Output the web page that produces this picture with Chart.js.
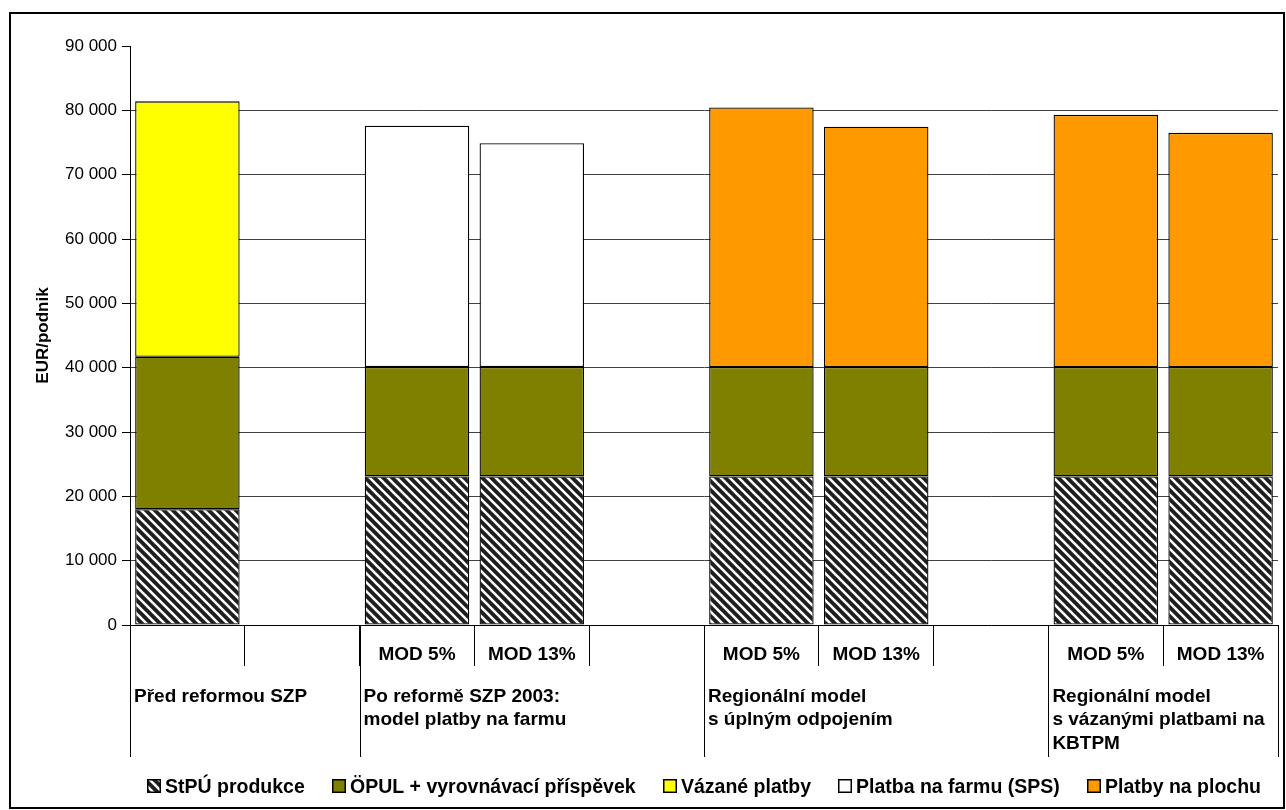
<!DOCTYPE html>
<html>
<head>
<meta charset="utf-8">
<script src="https://cdn.jsdelivr.net/npm/chart.js@4.4.1/dist/chart.umd.min.js"></script>
<style>
  html, body { margin: 0; padding: 0; background: #fff; }
  #frame { position: absolute; left: 9px; top: 12px; width: 1272px; height: 793px; border: 2px solid #000; }
  #wrap { position: absolute; left: 0; top: 0; width: 1286px; height: 810px; }
</style>
</head>
<body>
<div id="frame"></div>
<div id="wrap"><canvas id="c" width="1286" height="810"></canvas></div>
<script>
// ---- data ----
const categories = ['', '', 'MOD 5%', 'MOD 13%', '', 'MOD 5%', 'MOD 13%', '', 'MOD 5%', 'MOD 13%'];
const stpuProdukce    = [18000, null, 23100, 23100, null, 23100, 23100, null, 23100, 23100];
const opulVyrovnavaci = [23700, null, 17000, 17000, null, 17000, 17000, null, 17000, 17000];
const vazanePlatby    = [39700, null, null, null, null, null, null, null, null, null];
const platbaNaFarmu   = [null, null, 37500, 34800, null, null, null, null, null, null];
const platbyNaPlochu  = [null, null, null, null, null, 40350, 37350, null, 39200, 36400];
const seriesNames = ['StPÚ produkce', 'ÖPUL + vyrovnávací příspěvek', 'Vázané platby', 'Platba na farmu (SPS)', 'Platby na plochu'];
const groupLabels = [['Před reformou SZP'], ['Po reformě SZP 2003:', 'model platby na farmu'], ['Regionální model', 's úplným odpojením'], ['Regionální model', 's vázanými platbami na', 'KBTPM']];
const groupStarts = [0, 2, 5, 8];
const groupEnds   = [1, 4, 7, 9];
const yTicksMax = 90000;
const yStep = 10000;

// ---- hatch pattern ----
function makeHatch() {
  const s = 9;
  const c = document.createElement('canvas');
  c.width = s; c.height = s;
  const g = c.getContext('2d');
  g.fillStyle = '#1e1e1e';
  g.fillRect(0, 0, s, s);
  g.strokeStyle = '#ffffff';
  g.lineWidth = 2.6;
  g.beginPath();
  g.moveTo(-s, -s); g.lineTo(2 * s, 2 * s);
  g.moveTo(-s, 0); g.lineTo(s, 2 * s);
  g.moveTo(0, -s); g.lineTo(2 * s, s);
  g.stroke();
  return g.createPattern(c, 'repeat');
}
const hatch = makeHatch();

const FONT = '"Liberation Sans", Arial, sans-serif';
Chart.defaults.font.family = FONT;
Chart.defaults.color = '#000';

const fmt = v => String(v).replace(/\B(?=(\d{3})+(?!\d))/g, ' ');

const groupPlugin = {
  id: 'groups',
  afterDraw(chart) {
    const x = chart.scales.x;
    const ctx = chart.ctx;
    const half = x.width / categories.length / 2;
    const bottom = 757;
    ctx.save();
    ctx.strokeStyle = '#000';
    ctx.lineWidth = 1;
    const edges = groupStarts.map(s => x.getPixelForValue(s) - half);
    edges.push(x.getPixelForValue(groupEnds[groupEnds.length - 1]) + half);
    edges.forEach(px => {
      const p = Math.round(px) + 0.5;
      ctx.beginPath();
      ctx.moveTo(p, x.top);
      ctx.lineTo(p, bottom);
      ctx.stroke();
    });
    ctx.fillStyle = '#000';
    ctx.font = 'bold 19px ' + FONT;
    ctx.textAlign = 'left';
    ctx.textBaseline = 'alphabetic';
    groupLabels.forEach((lines, i) => {
      const left = x.getPixelForValue(groupStarts[i]) - half + 4;
      lines.forEach((t, j) => ctx.fillText(t, left, 702 + j * 23.3));
    });

    // legend (dataset labels and fills), centred under the plot area
    const ca = chart.chartArea;
    const box = 14, boxGap = 4, itemGap = 27;
    ctx.font = 'bold 19.5px ' + FONT;
    const ds = chart.data.datasets;
    const widths = ds.map(d => box + boxGap + ctx.measureText(d.label).width);
    const total = widths.reduce((a, b) => a + b, 0) + itemGap * (ds.length - 1);
    let lx = (ca.left + ca.right) / 2 - total / 2;
    const cy = 786;
    ds.forEach((d, i) => {
      const bx = Math.round(lx), by = Math.round(cy - box / 2);
      ctx.fillStyle = d.backgroundColor;
      ctx.fillRect(bx, by, box, box);
      ctx.lineWidth = 1.5;
      ctx.strokeStyle = '#000';
      ctx.strokeRect(bx + 0.75, by + 0.75, box - 1.5, box - 1.5);
      ctx.fillStyle = '#000';
      ctx.textBaseline = 'alphabetic';
      ctx.fillText(d.label, bx + box + boxGap, cy + 7);
      lx += widths[i] + itemGap;
    });
    ctx.restore();
  }
};

const common = { borderColor: '#000', borderWidth: 1.3, borderSkipped: false, categoryPercentage: 1, barPercentage: 0.91 };

new Chart(document.getElementById('c'), {
  type: 'bar',
  data: {
    labels: categories,
    datasets: [
      Object.assign({ label: seriesNames[0], data: stpuProdukce, backgroundColor: hatch }, common),
      Object.assign({ label: seriesNames[1], data: opulVyrovnavaci, backgroundColor: '#808000' }, common),
      Object.assign({ label: seriesNames[2], data: vazanePlatby, backgroundColor: '#ffff00' }, common),
      Object.assign({ label: seriesNames[3], data: platbaNaFarmu, backgroundColor: '#ffffff' }, common),
      Object.assign({ label: seriesNames[4], data: platbyNaPlochu, backgroundColor: '#ff9900' }, common)
    ]
  },
  options: {
    responsive: false,
    animation: false,
    layout: { padding: { left: 20, top: 46, right: 8, bottom: 40.5 } },
    plugins: {
      tooltip: { enabled: false },
      legend: { display: false }
    },
    scales: {
      x: {
        stacked: true,
        offset: true,
        grid: { offset: true, drawOnChartArea: false, tickLength: 41, tickColor: '#000', tickWidth: 1 },
        border: { display: true, color: '#000', width: 1 },
        ticks: { font: { size: 19, weight: 'bold' }, color: '#000', padding: -23, maxRotation: 0, autoSkip: false },
        afterFit(s) { s.height = 144.5; }
      },
      y: {
        stacked: true,
        min: 0, max: yTicksMax,
        ticks: { stepSize: yStep, font: { size: 17 }, color: '#000', padding: 5, callback: v => fmt(v) },
        grid: {
          color: c => (c.tick && (c.tick.value === 0 || c.tick.value === yTicksMax)) ? 'rgba(0,0,0,0)' : '#404040',
          tickColor: '#000', tickLength: 8, lineWidth: 1
        },
        border: { display: true, color: '#000', width: 1 },
        title: { display: true, text: 'EUR/podnik', font: { size: 17, weight: 'bold' }, color: '#000', padding: { top: 13, bottom: 0 } },
        afterFit(s) { s.width = 110; }
      }
    }
  },
  plugins: [groupPlugin]
});
</script>
</body>
</html>
